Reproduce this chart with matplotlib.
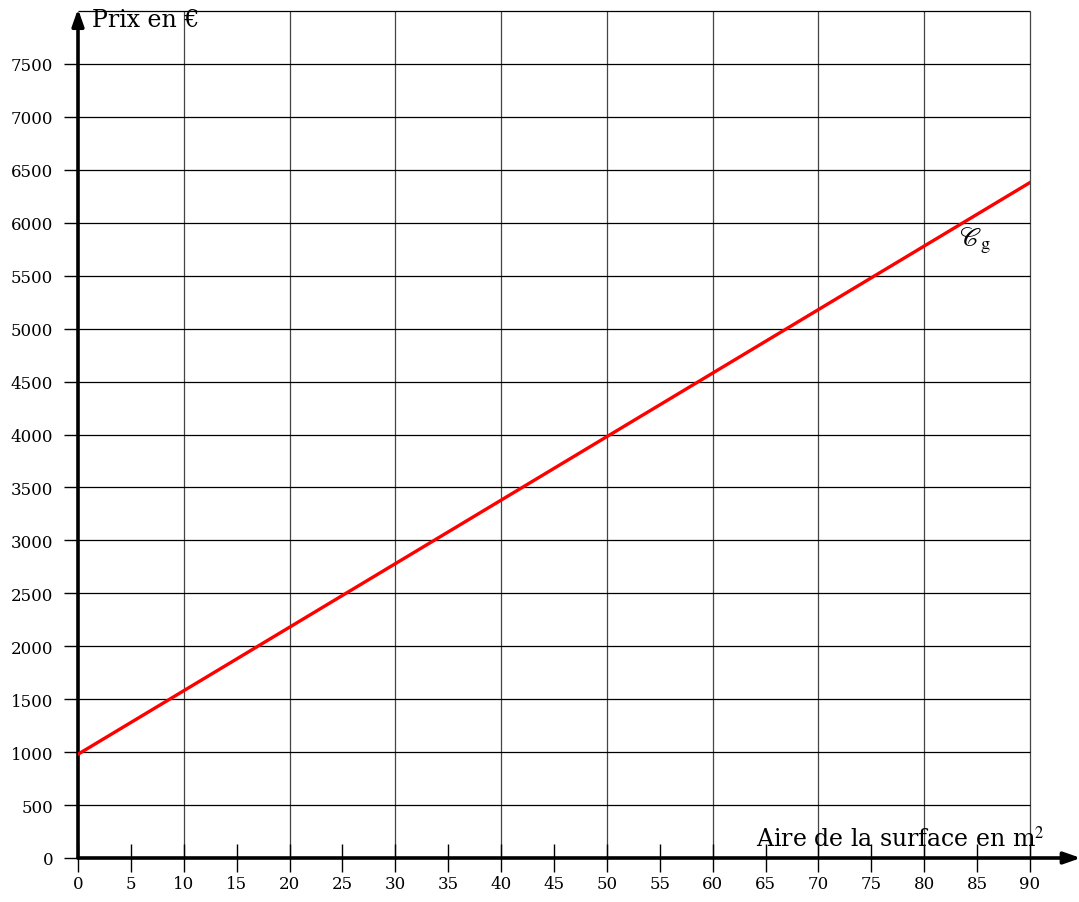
import numpy as np
import matplotlib
matplotlib.use('Agg')
import matplotlib.pyplot as plt

plt.rcParams['font.family'] = ['DejaVu Serif']
plt.rcParams['mathtext.fontset'] = 'stix'

# données
x_ticks = [0, 5, 10, 15, 20, 25, 30, 35, 40, 45, 50, 55, 60, 65, 70, 75, 80, 85, 90]
y_ticks = [0, 500, 1000, 1500, 2000, 2500, 3000, 3500, 4000, 4500, 5000, 5500, 6000, 6500, 7000, 7500]
x_grid = [10, 20, 30, 40, 50, 60, 70, 80, 90]
y_grid = [500, 1000, 1500, 2000, 2500, 3000, 3500, 4000, 4500, 5000, 5500, 6000, 6500, 7000, 7500, 8000]
surface = [0, 90]
prix = [980, 6380]

fig = plt.figure(figsize=(10.79, 9.03), dpi=100)
ax = fig.add_axes([78 / 1079, 44 / 903, 952 / 1079, 847 / 903])
ax.set_xlim(0, 90)
ax.set_ylim(0, 8000)
for s in ax.spines.values():
    s.set_visible(False)

# quadrillage
ax.vlines(x_grid, 0, 8000, colors='#444444', linewidth=0.9, zorder=1, clip_on=False)
ax.hlines(y_grid, 0, 90, colors='black', linewidth=0.9, zorder=1, clip_on=False)

# axes avec flèches
ax.annotate('', xy=(94.8, 0), xytext=(0, 0), annotation_clip=False,
            arrowprops=dict(arrowstyle='-|>,head_length=1.0,head_width=0.35', lw=2.6, color='black',
                            shrinkA=0, shrinkB=0))
ax.annotate('', xy=(0, 8020), xytext=(0, 0), annotation_clip=False,
            arrowprops=dict(arrowstyle='-|>,head_length=1.0,head_width=0.35', lw=2.6, color='black',
                            shrinkA=0, shrinkB=0))

# graduations
ax.set_xticks(x_ticks)
ax.set_xticklabels([str(v) for v in x_ticks])
ax.set_yticks(y_ticks)
ax.set_yticklabels([str(v) for v in y_ticks])
ax.tick_params(axis='x', direction='inout', length=20, width=1.0, pad=2, labelsize=12)
ax.tick_params(axis='y', direction='out', length=10, width=1.0, pad=8, labelsize=12)

# courbe
ax.plot(surface, prix, color='red', linewidth=2.4, zorder=3)
ax.text(84.8, 5840, r'$\mathscr{C}_{\mathrm{g}}$', fontsize=19, ha='center', va='center')

ax.text(1.3, 8030, 'Prix en €', fontsize=17, ha='left', va='top')
ax.text(91.4, 60, 'Aire de la surface en m$^2$', fontsize=17, ha='right', va='bottom')

fig.savefig('out.png', dpi=100)
